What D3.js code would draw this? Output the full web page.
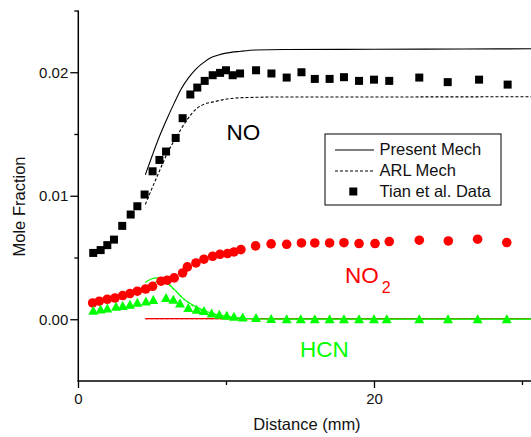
<!DOCTYPE html>
<html>
<head>
<meta charset="utf-8">
<script src="https://cdn.jsdelivr.net/npm/d3@7"></script>
<style>
  html, body { margin: 0; padding: 0; background: #fff; }
  svg { display: block; font-family: "Liberation Sans", Arial, Helvetica, sans-serif; }
</style>
</head>
<body>
<svg id="chart" width="531" height="437"></svg>
<script>
// Measured profiles (Tian et al.) — distance in mm, mole fraction
const noDist = [1.03, 1.53, 1.98, 2.43, 2.99, 3.56, 4.01, 4.5, 5.04, 5.5, 5.95, 6.6, 7.07, 7.59, 8.06, 8.56, 9.1, 9.6, 10.0, 10.45, 10.95, 12.03, 13.07, 14.1, 15.1, 16.0, 17.0, 17.97, 18.99, 20.0, 21.03, 23.06, 24.98, 27.1, 29.03];
const noVal  = [0.00537, 0.0056, 0.0060, 0.00645, 0.00756, 0.00848, 0.00915, 0.0101, 0.01198, 0.0129, 0.01358, 0.01468, 0.01628, 0.0182, 0.01876, 0.0193, 0.01976, 0.01995, 0.02016, 0.01976, 0.0199, 0.02016, 0.0199, 0.01957, 0.0200, 0.01946, 0.01946, 0.0196, 0.0193, 0.0194, 0.0193, 0.01957, 0.0192, 0.0194, 0.0190];

const no2Dist = [0.99, 1.44, 1.98, 2.5, 3.02, 3.51, 4.01, 4.57, 5.04, 5.61, 6.03, 6.5, 7.07, 7.39, 7.97, 8.51, 9.1, 9.59, 10.1, 10.54, 11.01, 12.0, 13.05, 14.1, 15.1, 16.0, 17.0, 17.97, 18.99, 20.07, 21.03, 23.06, 25.02, 27.0, 28.97];
const no2Val  = [0.00132, 0.00146, 0.00162, 0.00172, 0.00192, 0.00208, 0.00227, 0.00245, 0.00267, 0.00308, 0.00316, 0.00335, 0.00375, 0.00424, 0.00456, 0.00486, 0.0051, 0.00526, 0.00532, 0.00545, 0.00564, 0.00594, 0.0061, 0.00607, 0.00618, 0.00618, 0.00618, 0.0062, 0.00613, 0.00613, 0.00629, 0.0064, 0.00634, 0.00648, 0.00621];

const hcnDist = [1.03, 1.53, 1.98, 2.57, 3.02, 3.51, 4.01, 4.59, 5.09, 5.95, 6.44, 6.89, 7.45, 8.02, 8.51, 9.03, 9.55, 10.05, 10.54, 11.13, 12.03, 13.05, 14.1, 15.05, 16.0, 17.0, 17.97, 18.99, 20.0, 20.86, 23.06, 25.0, 27.0, 28.97];
const hcnVal  = [0.00073, 0.00083, 0.00092, 0.00105, 0.00111, 0.00121, 0.00138, 0.00148, 0.0016, 0.00176, 0.00162, 0.00132, 0.00095, 0.00081, 0.0007, 0.00051, 0.0004, 0.00032, 0.00024, 0.00019, 0.00014, 0.00006, 0.00005, 0.00005, 0.00005, 0.00005, 0.00005, 0.00005, 0.00005, 0.00005, 0.00005, 0.00005, 0.00005, 0.00005];

// Model predictions: Present mechanism (solid) and ARL mechanism (dashed)
const presentNoDist = [4.55, 5.0, 5.5, 6.0, 6.5, 7.0, 7.5, 8.0, 8.5, 9.0, 9.5, 10.0, 11.0, 12.0, 14.0, 20.0, 26.0, 31.0];
const presentNoVal  = [0.0117, 0.0132, 0.0148, 0.0162, 0.0175, 0.0187, 0.0196, 0.0203, 0.0208, 0.0212, 0.0214, 0.02155, 0.0217, 0.0218, 0.02184, 0.02186, 0.02188, 0.0219];
const arlNoDist = [4.55, 5.0, 5.54, 6.1, 6.67, 7.34, 8.02, 8.6, 9.14, 10.27, 11.4, 14.0, 20.0, 31.0];
const arlNoVal  = [0.0093, 0.0106, 0.0121, 0.0136, 0.0148, 0.0161, 0.01706, 0.01745, 0.0176, 0.01787, 0.01795, 0.0180, 0.0180, 0.01802];

const presentHcnDist = [4.53, 4.91, 5.32, 5.76, 6.22, 6.67, 7.12, 7.79, 8.47, 9.37, 10.27, 11.4, 12.5, 14.0, 31.0];
const presentHcnVal  = [0.00297, 0.00324, 0.00335, 0.00316, 0.00275, 0.00221, 0.00167, 0.00113, 0.00073, 0.00038, 0.00019, 0.00006, 0.00002, 0.00001, 0.00001];
const arlHcnDist = [4.55, 5.0, 5.5, 6.0, 6.5, 7.0, 7.5, 8.0, 9.0, 10.0, 11.0, 12.0, 14.0, 31.0];
const arlHcnVal  = [0.0026, 0.0029, 0.00305, 0.0029, 0.0024, 0.0018, 0.0013, 0.0009, 0.00045, 0.0002, 0.00008, 0.00003, 0.00001, 0.00001];

const presentNo2Dist = [4.55, 31.0];
const presentNo2Val  = [0.00005, 0.00005];
const arlNo2Dist = [4.55, 31.0];
const arlNo2Val  = [0.00004, 0.00004];

// Axis ticks
const xMajorTicks = [0, 20];
const xMinorTicks = [10, 30];
const yMajorTicks = [0, 0.01, 0.02];
const yMinorTicks = [0.005, 0.015, 0.025];

const legendLabels = ["Present Mech", "ARL Mech", "Tian et al. Data"];

const GREEN = "#00ff00";
const RED = "#ff0000";

const zip = (xs, ys) => xs.map((d, i) => [d, ys[i]]);

const svg = d3.select("#chart");
const W = 531;

const x = d3.scaleLinear().domain([0, 20]).range([78, 374]);
const y = d3.scaleLinear().domain([-0.005, 0.025]).range([381, 10.5]);

const plot = svg.append("g");
const clipId = "plotclip";
svg.append("clipPath").attr("id", clipId)
  .append("rect").attr("x", 79).attr("y", 0).attr("width", W - 79).attr("height", 380);
plot.attr("clip-path", `url(#${clipId})`);

const line = d3.line().x(d => x(d[0])).y(d => y(d[1])).curve(d3.curveMonotoneX);

function drawCurve(xs, ys, color, dashed) {
  plot.append("path")
    .datum(zip(xs, ys))
    .attr("d", line)
    .attr("fill", "none")
    .attr("stroke", color)
    .attr("stroke-width", 1.1)
    .attr("stroke-dasharray", dashed ? "3,2" : null);
}

drawCurve(presentNoDist, presentNoVal, "#000", false);
drawCurve(arlNoDist, arlNoVal, "#000", true);
drawCurve(presentNo2Dist, presentNo2Val, RED, false);
drawCurve(arlNo2Dist, arlNo2Val, RED, true);
drawCurve(presentHcnDist, presentHcnVal, GREEN, false);
drawCurve(arlHcnDist, arlHcnVal, GREEN, true);

// NO: filled squares
const sq = 8;
plot.append("g").selectAll("rect")
  .data(zip(noDist, noVal))
  .join("rect")
  .attr("x", d => x(d[0]) - sq / 2)
  .attr("y", d => y(d[1]) - sq / 2)
  .attr("width", sq).attr("height", sq)
  .attr("fill", "#000");

// NO2: filled circles
plot.append("g").selectAll("circle")
  .data(zip(no2Dist, no2Val))
  .join("circle")
  .attr("cx", d => x(d[0]))
  .attr("cy", d => y(d[1]))
  .attr("r", 4.8)
  .attr("fill", RED);

// HCN: filled up-triangles
const tw = 10, th = 9;
plot.append("g").selectAll("path")
  .data(zip(hcnDist, hcnVal))
  .join("path")
  .attr("d", d => {
    const cx = x(d[0]), cy = y(d[1]);
    return `M${cx},${cy - th / 2}L${cx + tw / 2},${cy + th / 2}L${cx - tw / 2},${cy + th / 2}Z`;
  })
  .attr("fill", GREEN);

// Axes
const axisG = svg.append("g");
axisG.append("line")
  .attr("x1", 78.3).attr("x2", 78.3).attr("y1", y(0.025)).attr("y2", 381.5)
  .attr("stroke", "#000").attr("stroke-width", 1.5);
axisG.append("line")
  .attr("x1", 77.5).attr("x2", W).attr("y1", 381).attr("y2", 381)
  .attr("stroke", "#000").attr("stroke-width", 1.5);

const yAxis = d3.axisLeft(y)
  .tickValues(yMajorTicks)
  .tickFormat(d3.format(".2f"))
  .tickSize(8)
  .tickPadding(2);
const yAxisG = svg.append("g").attr("transform", "translate(78.3,0)").call(yAxis);
yAxisG.select(".domain").remove();
yAxisG.selectAll(".tick line").attr("stroke-width", 1.3);
yAxisG.selectAll(".tick text").attr("font-size", 15).attr("font-family", "Liberation Sans, Arial, sans-serif").attr("fill", "#111");

const yMinor = svg.append("g").attr("transform", "translate(78.3,0)")
  .call(d3.axisLeft(y).tickValues(yMinorTicks).tickSize(4).tickFormat(""));
yMinor.select(".domain").remove();
yMinor.selectAll(".tick line").attr("stroke-width", 1.3);

const xAxis = d3.axisBottom(x)
  .tickValues(xMajorTicks)
  .tickFormat(d3.format("d"))
  .tickSize(7)
  .tickPadding(5);
const xAxisG = svg.append("g").attr("transform", "translate(0,381)").call(xAxis);
xAxisG.select(".domain").remove();
xAxisG.selectAll(".tick line").attr("stroke-width", 1.3);
xAxisG.selectAll(".tick text").attr("font-size", 15).attr("font-family", "Liberation Sans, Arial, sans-serif").attr("fill", "#111");

const xMinor = svg.append("g").attr("transform", "translate(0,381)")
  .call(d3.axisBottom(x).tickValues(xMinorTicks).tickSize(4).tickFormat(""));
xMinor.select(".domain").remove();
xMinor.selectAll(".tick line").attr("stroke-width", 1.3);

// Axis titles
svg.append("text")
  .attr("x", 307).attr("y", 430)
  .attr("text-anchor", "middle")
  .attr("font-size", 16.5)
  .attr("fill", "#111")
  .text("Distance (mm)");

svg.append("text")
  .attr("transform", "translate(25,206.5) rotate(-90)")
  .attr("text-anchor", "middle")
  .attr("font-size", 16.5)
  .attr("fill", "#111")
  .text("Mole Fraction");

// Species labels
svg.append("text")
  .attr("x", 226.5).attr("y", 139.5)
  .attr("font-size", 22.5)
  .attr("fill", "#000")
  .text("NO");

const no2Label = svg.append("text")
  .attr("x", 345).attr("y", 282.5)
  .attr("font-size", 22.5)
  .attr("fill", RED);
no2Label.append("tspan").text("NO");
no2Label.append("tspan").attr("dx", 3).attr("dy", 10).attr("font-size", 16).text("2");

svg.append("text")
  .attr("x", 300).attr("y", 356.5)
  .attr("font-size", 22.5)
  .attr("fill", GREEN)
  .text("HCN");

// Legend
const legend = svg.append("g");
legend.append("rect")
  .attr("x", 325).attr("y", 134).attr("width", 176).attr("height", 71)
  .attr("fill", "#fff").attr("stroke", "#000").attr("stroke-width", 1);

const rowY = [150, 171, 191.5];
legend.append("line")
  .attr("x1", 335).attr("x2", 374).attr("y1", rowY[0]).attr("y2", rowY[0])
  .attr("stroke", "#000").attr("stroke-width", 1.1);
legend.append("line")
  .attr("x1", 335).attr("x2", 374).attr("y1", rowY[1]).attr("y2", rowY[1])
  .attr("stroke", "#000").attr("stroke-width", 1.1).attr("stroke-dasharray", "3,2");
legend.append("rect")
  .attr("x", 353.3 - sq / 2).attr("y", rowY[2] - sq / 2).attr("width", sq).attr("height", sq)
  .attr("fill", "#000");

legend.selectAll("text.leg")
  .data(legendLabels)
  .join("text")
  .attr("class", "leg")
  .attr("x", 379.5)
  .attr("y", (d, i) => rowY[i] + 5)
  .attr("font-size", 16.5)
  .attr("fill", "#111")
  .text(d => d);
</script>
</body>
</html>
